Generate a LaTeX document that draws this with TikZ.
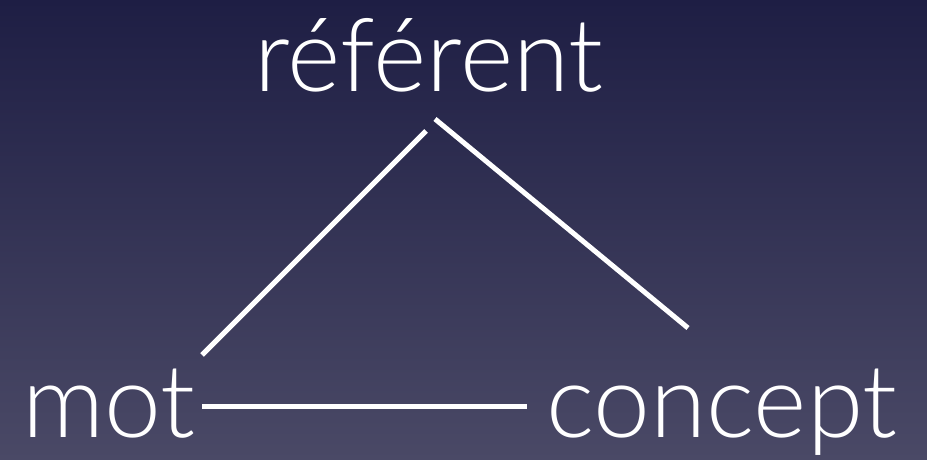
\documentclass[tikz,border=0pt]{standalone}
\usepackage{fontspec}
\usepackage{tikz}
\usetikzlibrary{positioning}
\newfontfamily\lightfont{Lato Light}
\definecolor{bgtop}{HTML}{1E1E44}
\definecolor{bgbot}{HTML}{4A4966}
\tikzset{
  word/.style={text=white, font=\lightfont\fontsize{51}{51}\selectfont, inner sep=0pt, anchor=base},
  link/.style={white, line width=2.5pt},
}
\begin{document}
\begin{tikzpicture}[x=0.5pt,y=-0.5pt]
  \shade[top color=bgtop, bottom color=bgbot] (0,0) rectangle (927,460);
  \useasboundingbox (0,0) rectangle (927,460);
  % the three words
  \node[word] (referent) at (429,92)  {référent};
  \node[word] (mot)      at (109,437) {mot};
  \node[word] (concept)  at (722,437) {concept};
  % line ends
  \coordinate (mot-up)  at (202,355);
  \coordinate (ref-l)   at (426,131);
  \coordinate (ref-r)   at (435,119);
  \coordinate (con-up)  at (688,328);
  \coordinate (mot-r)   at (202,406);
  \coordinate (con-l)   at (527,406);
  \draw[link] (mot-up) -- (ref-l);
  \draw[link] (ref-r) -- (con-up);
  \draw[link] (mot-r) -- (con-l);
\end{tikzpicture}
\end{document}
